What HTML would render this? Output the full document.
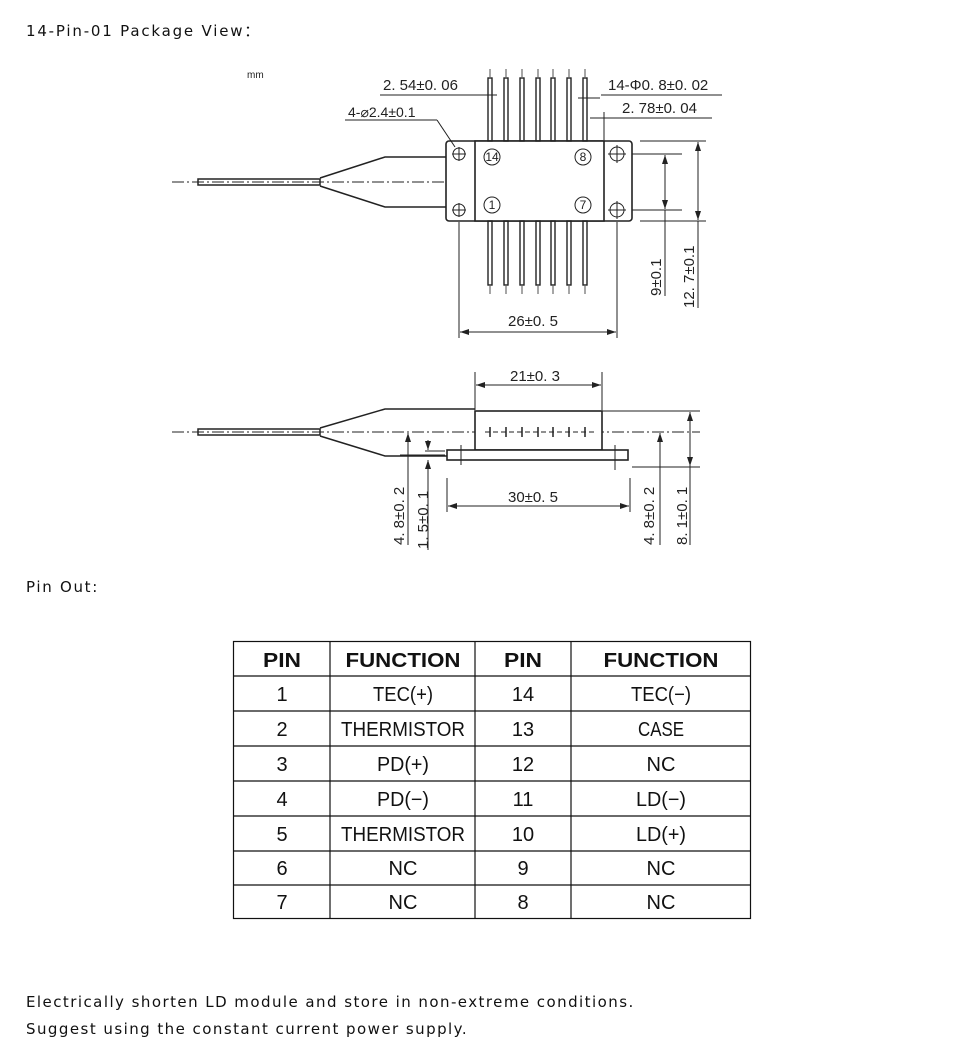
<!DOCTYPE html>
<html><head><meta charset="utf-8"><style>
html,body{margin:0;padding:0;background:#fff;width:976px;height:1060px;overflow:hidden}
svg{display:block}
.t{font-family:"DejaVu Sans","Liberation Sans",sans-serif;font-size:15px;fill:#111;letter-spacing:1.45px}
.d{font-family:"Liberation Sans",sans-serif;font-size:15px;fill:#222}
.tb{font-family:"Liberation Sans Narrow","Liberation Sans",sans-serif;font-size:20px;fill:#111;text-anchor:middle}
</style></head><body>
<svg width="976" height="1060" viewBox="0 0 976 1060" xmlns="http://www.w3.org/2000/svg">
<defs>
<marker id="a" markerWidth="10" markerHeight="8" refX="9" refY="4" orient="auto-start-reverse" markerUnits="userSpaceOnUse"><path d="M0,1 L9,4 L0,7 z" fill="#222"/></marker>
</defs>
<text class="t" x="26" y="36" style="letter-spacing:1.8px">14-Pin-01 Package View：</text>
<text class="t" x="26" y="592" style="letter-spacing:1.7px">Pin Out:</text>
<text class="t" x="26" y="1007">Electrically shorten LD module and store in non-extreme conditions.</text>
<text class="t" x="26" y="1034">Suggest using the constant current power supply.</text>

<!-- TOP VIEW -->
<g stroke="#222" fill="none" stroke-width="1">
<text class="d" x="247" y="78" style="font-size:10px" stroke="none">mm</text>
<line x1="172" y1="182" x2="475" y2="182" stroke-dasharray="12,3,2,3"/>
<rect x="198" y="179" width="122" height="6" stroke-width="1.5"/>
<path d="M320,178 L385,157 L475,157 M320,186 L385,207 L475,207" stroke-width="1.5"/>
<rect x="446" y="141" width="186" height="80" rx="3" stroke-width="1.6" fill="#fff"/>
<rect x="475" y="141" width="129" height="80" stroke-width="1.6" fill="#fff"/>
<circle cx="459" cy="154" r="6"/><circle cx="459" cy="210" r="6"/>
<circle cx="617" cy="154" r="7"/><circle cx="617" cy="210" r="7"/>
<path d="M452,154h14M459,147v14M452,210h14M459,203v14M608,154h18M617,145v18M608,210h18M617,201v18"/>
<circle cx="492" cy="157" r="8"/><circle cx="492" cy="205" r="8"/>
<circle cx="583" cy="157" r="8"/><circle cx="583" cy="205" r="8"/>
<g stroke-width="1.4">
<rect x="488" y="78" width="4" height="63"/><rect x="504" y="78" width="4" height="63"/><rect x="520" y="78" width="4" height="63"/><rect x="536" y="78" width="4" height="63"/><rect x="551" y="78" width="4" height="63"/><rect x="567" y="78" width="4" height="63"/><rect x="583" y="78" width="4" height="63"/>
<rect x="488" y="221" width="4" height="64"/><rect x="504" y="221" width="4" height="64"/><rect x="520" y="221" width="4" height="64"/><rect x="536" y="221" width="4" height="64"/><rect x="551" y="221" width="4" height="64"/><rect x="567" y="221" width="4" height="64"/><rect x="583" y="221" width="4" height="64"/>
</g>
<path d="M490,69v8M506,69v8M522,69v8M538,69v8M553,69v8M569,69v8M585,69v8M490,286v8M506,286v8M522,286v8M538,286v8M553,286v8M569,286v8M585,286v8" stroke-width="0.8"/>
<line x1="380" y1="95" x2="497" y2="95"/>
<line x1="345" y1="120" x2="437" y2="120"/><line x1="437" y1="120" x2="455" y2="147"/>
<line x1="601" y1="95" x2="722" y2="95"/>
<line x1="578" y1="98" x2="600" y2="98"/>
<line x1="590" y1="118" x2="712" y2="118"/><line x1="604" y1="112" x2="604" y2="140"/>
<line x1="459" y1="222" x2="459" y2="338"/><line x1="617" y1="222" x2="617" y2="338"/>
<line x1="460" y1="332" x2="616" y2="332" marker-start="url(#a)" marker-end="url(#a)"/>
<line x1="632" y1="154" x2="682" y2="154"/><line x1="632" y1="210" x2="682" y2="210"/>
<line x1="665" y1="155" x2="665" y2="209" marker-start="url(#a)" marker-end="url(#a)"/>
<line x1="640" y1="141" x2="706" y2="141"/><line x1="640" y1="221" x2="706" y2="221"/>
<line x1="698" y1="142" x2="698" y2="220" marker-start="url(#a)" marker-end="url(#a)"/>
<line x1="665" y1="210" x2="665" y2="296"/><line x1="698" y1="221" x2="698" y2="308"/>
</g>
<text class="d" x="383" y="90">2. 54±0. 06</text>
<text class="d" x="348" y="117" style="font-size:14px">4-⌀2.4±0.1</text>
<text class="d" x="608" y="90">14-Φ0. 8±0. 02</text>
<text class="d" x="622" y="113">2. 78±0. 04</text>
<text class="d" x="508" y="326">26±0. 5</text>
<text class="d" transform="translate(661,296) rotate(-90)">9±0.1</text>
<text class="d" transform="translate(694,308) rotate(-90)">12. 7±0.1</text>

<!-- SIDE VIEW -->
<g stroke="#222" fill="none" stroke-width="1">
<line x1="172" y1="432" x2="700" y2="432" stroke-dasharray="12,3,2,3"/>
<rect x="198" y="429" width="122" height="6" stroke-width="1.5"/>
<path d="M320,428 L385,409 L475,409 M320,436 L385,456 L447,456" stroke-width="1.5"/>
<rect x="475" y="411" width="127" height="39" stroke-width="1.6" fill="#fff"/>
<rect x="447" y="450" width="181" height="10" stroke-width="1.6" fill="#fff"/>
<line x1="485" y1="432" x2="595" y2="432" stroke-dasharray="5,3"/>
<path d="M490,427v10M506,427v10M522,427v10M538,427v10M553,427v10M569,427v10M585,427v10" stroke-width="1.5"/>
<line x1="475" y1="372" x2="475" y2="410"/><line x1="602" y1="372" x2="602" y2="410"/>
<line x1="476" y1="385" x2="601" y2="385" marker-start="url(#a)" marker-end="url(#a)"/>
<line x1="447" y1="478" x2="447" y2="512"/><line x1="630" y1="478" x2="630" y2="512"/>
<line x1="448" y1="506" x2="629" y2="506" marker-start="url(#a)" marker-end="url(#a)"/>
<line x1="461" y1="445" x2="461" y2="465"/><line x1="615" y1="445" x2="615" y2="470"/>
<line x1="408" y1="433" x2="408" y2="545" marker-start="url(#a)"/>
<line x1="428" y1="440" x2="428" y2="450" marker-end="url(#a)"/>
<line x1="428" y1="460" x2="428" y2="550" marker-start="url(#a)"/>
<line x1="400" y1="455" x2="445" y2="455"/>
<line x1="425" y1="451" x2="445" y2="451"/>
<line x1="602" y1="411" x2="700" y2="411"/><line x1="632" y1="467" x2="700" y2="467"/>
<line x1="660" y1="433" x2="660" y2="466" marker-start="url(#a)"/>
<line x1="660" y1="466" x2="660" y2="545"/>
<line x1="690" y1="412" x2="690" y2="466" marker-start="url(#a)" marker-end="url(#a)"/>
<line x1="690" y1="466" x2="690" y2="545"/>
</g>
<text class="d" x="510" y="381">21±0. 3</text>
<text class="d" x="508" y="502">30±0. 5</text>
<text class="d" transform="translate(404,545) rotate(-90)">4. 8±0. 2</text>
<text class="d" transform="translate(428,549) rotate(-90)">1. 5±0. 1</text>
<text class="d" transform="translate(654,545) rotate(-90)">4. 8±0. 2</text>
<text class="d" transform="translate(687,545) rotate(-90)">8. 1±0. 1</text>

<!-- TABLE -->
<g stroke="#111" stroke-width="1.2" fill="none">
<rect x="233.5" y="641.5" width="517" height="277"/>
<path d="M330,641v278M475,641v278M571,641v278"/>
<path d="M233,676h518M233,711h518M233,746h518M233,781h518M233,816h518M233,851h518M233,885h518"/>
</g>
<g class="tb">
<text x="282" y="667" font-weight="bold" textLength="38" lengthAdjust="spacingAndGlyphs">PIN</text><text x="403" y="667" font-weight="bold" textLength="115" lengthAdjust="spacingAndGlyphs">FUNCTION</text><text x="523" y="667" font-weight="bold" textLength="38" lengthAdjust="spacingAndGlyphs">PIN</text><text x="661" y="667" font-weight="bold" textLength="115" lengthAdjust="spacingAndGlyphs">FUNCTION</text>
<text x="282" y="701">1</text><text x="403" y="701" textLength="60" lengthAdjust="spacingAndGlyphs">TEC(+)</text><text x="523" y="701">14</text><text x="661" y="701" textLength="60" lengthAdjust="spacingAndGlyphs">TEC(−)</text>
<text x="282" y="736">2</text><text x="403" y="736" textLength="124" lengthAdjust="spacingAndGlyphs">THERMISTOR</text><text x="523" y="736">13</text><text x="661" y="736" textLength="46" lengthAdjust="spacingAndGlyphs">CASE</text>
<text x="282" y="771">3</text><text x="403" y="771" textLength="52" lengthAdjust="spacingAndGlyphs">PD(+)</text><text x="523" y="771">12</text><text x="661" y="771">NC</text>
<text x="282" y="806">4</text><text x="403" y="806" textLength="52" lengthAdjust="spacingAndGlyphs">PD(−)</text><text x="523" y="806">11</text><text x="661" y="806" textLength="50" lengthAdjust="spacingAndGlyphs">LD(−)</text>
<text x="282" y="841">5</text><text x="403" y="841" textLength="124" lengthAdjust="spacingAndGlyphs">THERMISTOR</text><text x="523" y="841">10</text><text x="661" y="841" textLength="50" lengthAdjust="spacingAndGlyphs">LD(+)</text>
<text x="282" y="875">6</text><text x="403" y="875">NC</text><text x="523" y="875">9</text><text x="661" y="875">NC</text>
<text x="282" y="909">7</text><text x="403" y="909">NC</text><text x="523" y="909">8</text><text x="661" y="909">NC</text>
</g>
<g class="d" style="font-size:12px;text-anchor:middle">
<text x="492" y="161">14</text><text x="492" y="209">1</text><text x="583" y="161">8</text><text x="583" y="209">7</text>
</g>
</svg>
</body></html>
